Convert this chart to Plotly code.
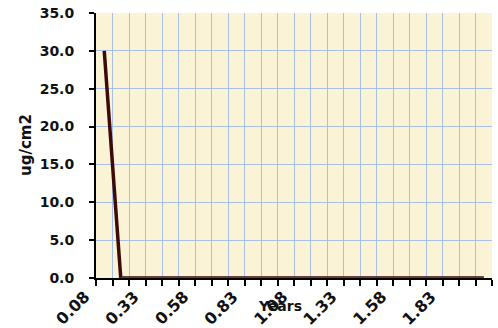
import plotly.graph_objects as go

years = ["0.08","0.17","0.25","0.33","0.42","0.50","0.58","0.67","0.75","0.83","0.92","1.00",
         "1.08","1.17","1.25","1.33","1.42","1.50","1.58","1.67","1.75","1.83","1.92","2.00"]
series_a = [30.0, 0.0, 0, 0, 0, 0, 0, 0, 0, 0, 0, 0, 0, 0, 0, 0, 0, 0, 0, 0, 0, 0, 0, 0]
series_b = [0.0] * 24
label_every = 3
y_ticks = [0, 5, 10, 15, 20, 25, 30, 35]

x = list(range(1, len(years) + 1))
tick_idx = list(range(0, len(years), label_every))
x_range = [0.5, len(years) + 0.5]

W, H = 498, 328
L, R, T, B = 96, 6, 13, 50
pw, ph = W - L - R, H - T - B

def px_x(p):  # window pixel -> paper x
    return (p - L) / pw

def px_y(p):  # window pixel -> paper y
    return (H - B - p) / ph

def cat_paper(v):  # category position -> paper x (same linear scale as the x axis)
    return (v - x_range[0]) / (x_range[1] - x_range[0])

FONT = "DejaVu Sans"
INK = "#111111"
GRID = "#a7bfe9"

fig = go.Figure()
fig.add_trace(go.Scatter(x=x, y=series_a, mode="lines",
                         line=dict(color="#3d0a08", width=3.5), showlegend=False))
fig.add_trace(go.Scatter(x=x[1:], y=series_b[1:], mode="lines",
                         line=dict(color="#c8102e", width=2), showlegend=False))

# rotated category labels: in the source they sit about two categories left of their point
annotations = [
    dict(text=years[i], x=cat_paper(x[i] - 1.95), y=px_y(308), xref="paper", yref="paper",
         showarrow=False, textangle=-45, xanchor="center", yanchor="middle",
         font=dict(family=FONT, size=16, color=INK, weight="bold"))
    for i in tick_idx
]
annotations += [
    dict(text="ug/cm2", x=px_x(15), y=px_y(145), xref="paper", yref="paper", showarrow=False,
         textangle=-90, font=dict(family=FONT, size=15, color=INK, weight="bold")),
    dict(text="Years", x=px_x(280), y=px_y(316), xref="paper", yref="paper", showarrow=False,
         font=dict(family=FONT, size=14, color=INK, weight="bold")),
]

fig.update_layout(
    width=W, height=H,
    margin=dict(l=L, r=R, t=T, b=B),
    paper_bgcolor="white",
    plot_bgcolor="#faf3d6",
    font=dict(family=FONT, size=14, color=INK),
    xaxis=dict(
        automargin=False,
        range=x_range,
        showticklabels=False,
        ticks="",
        showgrid=False,
        zeroline=False,
        showline=True, linecolor="black", linewidth=2,
        minor=dict(tick0=0.5, dtick=1, ticks="outside", ticklen=6, tickcolor="black",
                   tickwidth=2, showgrid=True, gridcolor=GRID, gridwidth=1),
    ),
    yaxis=dict(
        automargin=False,
        range=[0, 35],
        tickvals=y_ticks,
        ticktext=[f"{v:.1f}" for v in y_ticks],
        ticks="outside", ticklen=5, tickcolor="black", tickwidth=2,
        ticklabelstandoff=12,
        ticklabeloverflow="allow",
        showgrid=True, gridcolor=GRID, gridwidth=1,
        zeroline=False,
        showline=True, linecolor="black", linewidth=2,
        tickfont=dict(family=FONT, size=14, color=INK, weight="bold"),
    ),
    annotations=annotations,
)

fig.write_html("out.html", config={"displayModeBar": False},
               post_script="document.body.style.margin='0';")
